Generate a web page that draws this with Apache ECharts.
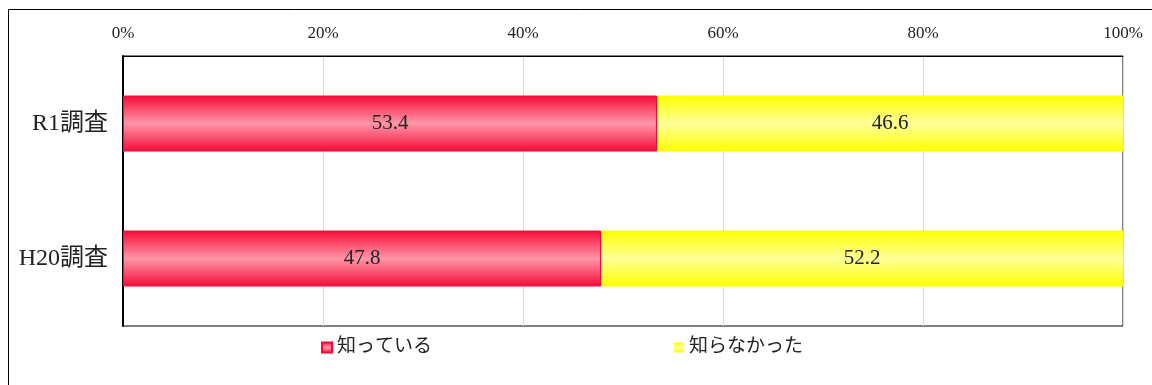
<!DOCTYPE html>
<html><head><meta charset="utf-8">
<script src="https://cdn.jsdelivr.net/npm/echarts@6/dist/echarts.min.js"></script>
<style>html,body{margin:0;padding:0;background:#fff}#c{width:1152px;height:385px}</style>
</head><body><div id="c"></div>
<script>
const categories = ['R1調査', 'H20調査'];
const seriesNames = ['知っている', '知らなかった'];
const knownValues = [53.4, 47.8];
const unknownValues = [46.6, 52.2];
const xTicks = [0, 20, 40, 60, 80, 100];

const FONT = '"Liberation Serif", "Noto Sans CJK JP", serif';
function grad(edge, mid) {
  return new echarts.graphic.LinearGradient(0, 0, 0, 1, [
    {offset: 0, color: edge}, {offset: 0.5, color: mid}, {offset: 1, color: edge}
  ]);
}
const redFill = grad('#F50A36', '#FF96A9');
const yellowFill = grad('#FFFF00', '#FFFF99');

const chart = echarts.init(document.getElementById('c'));
chart.setOption({
  animation: false,
  textStyle: {fontFamily: FONT},
  grid: {left: 123, right: 29, top: 56, bottom: 59, show: true, borderColor: '#000', borderWidth: 1, backgroundColor: 'transparent'},
  graphic: [{type: 'rect', shape: {x: 8.5, y: 9.5, width: 1160, height: 400}, style: {fill: 'none', stroke: '#000', lineWidth: 1}, silent: true}],
  legend: [
    {data: [seriesNames[0]], left: 316, top: 333, itemWidth: 10, itemHeight: 10, itemGap: 5, icon: 'rect',
      textStyle: {fontFamily: FONT, fontSize: 19, color: '#222'}},
    {data: [seriesNames[1]], left: 669, top: 333, itemWidth: 10, itemHeight: 10, itemGap: 5, icon: 'rect',
      textStyle: {fontFamily: FONT, fontSize: 19, color: '#222'}}
  ],
  xAxis: {
    type: 'value', position: 'top', min: xTicks[0], max: xTicks[xTicks.length - 1], interval: 20,
    axisLabel: {formatter: '{value}%', fontFamily: FONT, fontSize: 17, color: '#222', margin: 14},
    axisLine: {show: true, lineStyle: {color: '#000', width: 1}},
    axisTick: {show: false},
    splitLine: {show: true, lineStyle: {color: '#d9d9d9', width: 1}}
  },
  yAxis: {
    type: 'category', inverse: true, data: categories,
    axisLabel: {fontFamily: FONT, fontSize: 24, color: '#222', margin: 15},
    axisLine: {show: true, lineStyle: {color: '#000', width: 2}},
    axisTick: {show: false}
  },
  series: [
    {name: seriesNames[0], type: 'bar', stack: 's', data: knownValues, barWidth: 56,
      itemStyle: {color: redFill, borderColor: '#F50A36', borderWidth: 1},
      label: {show: true, position: 'inside', fontFamily: FONT, fontSize: 21, color: '#222', formatter: p => p.value.toFixed(1)}},
    {name: seriesNames[1], type: 'bar', stack: 's', data: unknownValues, barWidth: 56,
      itemStyle: {color: yellowFill},
      label: {show: true, position: 'inside', fontFamily: FONT, fontSize: 21, color: '#222', formatter: p => p.value.toFixed(1)}}
  ]
});
</script></body></html>
